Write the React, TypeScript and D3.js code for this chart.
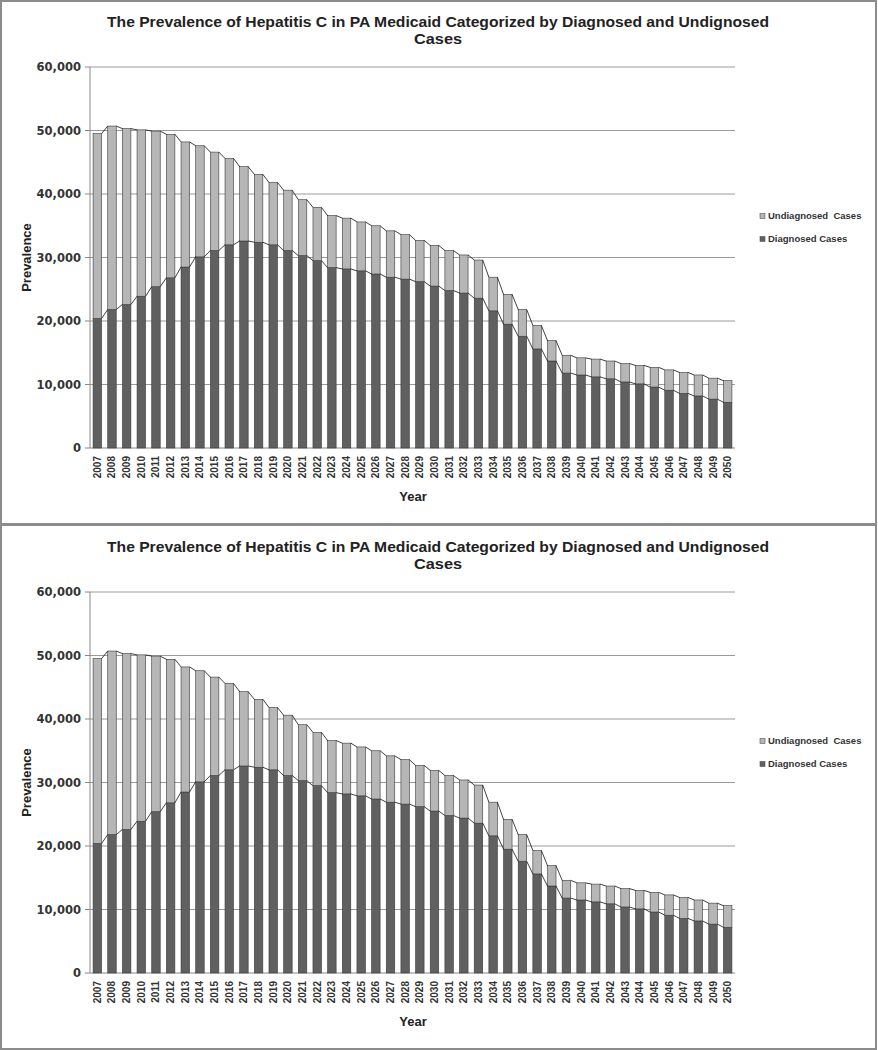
import React from "react";
import * as d3 from "d3";

const years: string[] = [
  "2007","2008","2009","2010","2011","2012","2013","2014","2015","2016","2017",
  "2018","2019","2020","2021","2022","2023","2024","2025","2026","2027","2028",
  "2029","2030","2031","2032","2033","2034","2035","2036","2037","2038","2039",
  "2040","2041","2042","2043","2044","2045","2046","2047","2048","2049","2050",
];

const diagnosed: number[] = [
  20400, 21800, 22600, 23900, 25400, 26800, 28500, 30100, 31100, 32000, 32600,
  32400, 32000, 31100, 30300, 29500, 28400, 28200, 27900, 27400, 26900, 26600,
  26200, 25500, 24800, 24400, 23600, 21600, 19500, 17600, 15600, 13700, 11800,
  11500, 11200, 10900, 10400, 10100, 9600, 9100, 8600, 8200, 7700, 7200,
];

const undiagnosed: number[] = [
  29100, 28900, 27700, 26200, 24500, 22600, 19700, 17500, 15500, 13600, 11700,
  10700, 9800, 9500, 8800, 8400, 8200, 8000, 7700, 7600, 7300, 7000,
  6500, 6400, 6300, 6000, 6000, 5300, 4700, 4200, 3700, 3200, 2800,
  2700, 2800, 2800, 2900, 2900, 3100, 3200, 3300, 3300, 3300, 3400,
];

const yTicks: number[] = [0, 10000, 20000, 30000, 40000, 50000, 60000];
const seriesKeys = ["diagnosed", "undiagnosed"];
const legendLabels = ["Undiagnosed  Cases", "Diagnosed Cases"];
const titleLines = [
  "The Prevalence of Hepatitis C in PA Medicaid Categorized by Diagnosed and Undignosed",
  "Cases",
];

const COLORS: Record<string, string> = { diagnosed: "#606060", undiagnosed: "#b6b6b6" };

const rows = years.map((y, i) => ({ year: y, diagnosed: diagnosed[i], undiagnosed: undiagnosed[i] }));

const x = d3.scaleBand<string>().domain(years).range([90, 735]).paddingInner(0.42).paddingOuter(0.21);
const y = d3.scaleLinear().domain([0, 60000]).range([448, 67]);
const stack = d3.stack<any>().keys(seriesKeys);
const layers = stack(rows);
const fmt = d3.format(",");

const Panel: React.FC<{ offset: number }> = ({ offset }) => {
  const bw = x.bandwidth();
  return (
    <g transform={`translate(0,${offset})`}>
      <text x={438} y={27} textAnchor="middle" fontFamily="Liberation Sans, Arial, sans-serif" fontWeight="bold" fontSize={15} fill="#222" textLength={662} lengthAdjust="spacingAndGlyphs">{titleLines[0]}</text>
      <text x={438} y={44} textAnchor="middle" fontFamily="Liberation Sans, Arial, sans-serif" fontWeight="bold" fontSize={15} fill="#222" textLength={48} lengthAdjust="spacingAndGlyphs">{titleLines[1]}</text>
      {yTicks.map((t) => (
        <line key={t} x1={90} x2={735} y1={y(t)} y2={y(t)} stroke={t === 0 ? "#888" : "#9a9a9a"} strokeWidth={1} />
      ))}
      <line x1={90} x2={90} y1={y(60000)} y2={y(0)} stroke="#888" strokeWidth={1} />
      {yTicks.map((t) => (
        <g key={"t" + t}>
          <line x1={85} x2={90} y1={y(t)} y2={y(t)} stroke="#888" />
          <text x={81} y={y(t)} dy="0.35em" textAnchor="end" fontFamily="DejaVu Sans, sans-serif" fontWeight="bold" fontSize={11.5} fill="#333">{fmt(t)}</text>
        </g>
      ))}
      {layers.map((layer) => (
        <g key={layer.key}>
          {layer.map((d, i) => (
            <rect key={i} x={x(years[i])!} y={y(d[1])} width={bw} height={y(d[0]) - y(d[1])} fill={COLORS[layer.key]} stroke="#3a3a3a" strokeWidth={0.6} />
          ))}
        </g>
      ))}
      {layers.map((layer) => (
        <g key={"sl" + layer.key}>
          {layer.slice(0, -1).map((d, i) => (
            <line key={i} x1={x(years[i])! + bw} y1={y(d[1])} x2={x(years[i + 1])!} y2={y(layer[i + 1][1])} stroke="#111" strokeWidth={0.8} />
          ))}
        </g>
      ))}
      {years.map((yr) => {
        const cx = x(yr)! + bw / 2;
        return (
          <text key={yr} transform={`translate(${cx},${456}) rotate(-90)`} textAnchor="end" dy="0.35em" fontFamily="Liberation Sans, Arial, sans-serif" fontWeight="bold" fontSize={10} fill="#333">{yr}</text>
        );
      })}
      <text x={413} y={501} textAnchor="middle" fontFamily="Liberation Sans, Arial, sans-serif" fontWeight="bold" fontSize={13} fill="#222">Year</text>
      <text transform={`translate(31,${(y(0) + y(60000)) / 2}) rotate(-90)`} textAnchor="middle" fontFamily="Liberation Sans, Arial, sans-serif" fontWeight="bold" fontSize={13} fill="#222">Prevalence</text>
      {["undiagnosed", "diagnosed"].map((k, i) => (
        <g key={k} transform={`translate(760,${216 + i * 23})`}>
          <rect x={0} y={-2.5} width={5} height={5} fill={COLORS[k]} stroke="#555" strokeWidth={0.6} />
          <text x={8} y={0} dy="0.35em" fontFamily="Liberation Sans, Arial, sans-serif" fontWeight="bold" fontSize={9.5} fill="#333" style={{ whiteSpace: "pre" }}>{legendLabels[i]}</text>
        </g>
      ))}
    </g>
  );
};

export default function App() {
  return (
    <svg width={878} height={1050} style={{ position: "absolute", left: 0, top: 0, background: "#fff" }}>
      <rect x={0} y={0} width={878} height={1050} fill="#fff" />
      <rect x={1} y={1} width={875} height={523} fill="none" stroke="#8c8c8c" strokeWidth={2} />
      <rect x={1} y={525} width={875} height={524} fill="none" stroke="#8c8c8c" strokeWidth={2} />
      <Panel offset={0} />
      <Panel offset={525} />
    </svg>
  );
}
